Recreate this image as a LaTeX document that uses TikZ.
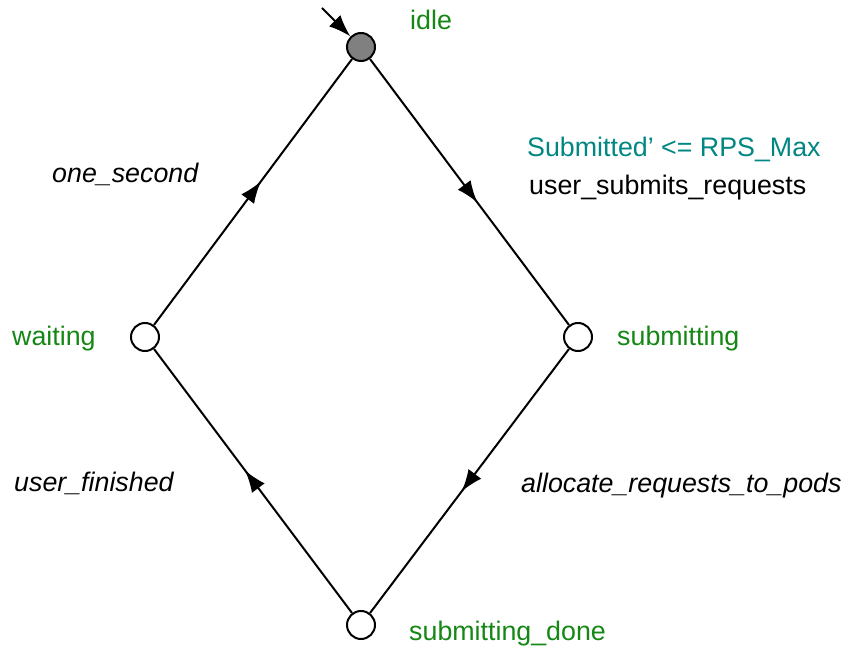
\documentclass[tikz,border=0pt]{standalone}
\usepackage{fontspec}
\setmainfont{Liberation Sans}
\usetikzlibrary{arrows.meta,decorations.markings}
\definecolor{locgreen}{RGB}{20,135,20}
\definecolor{guardteal}{RGB}{0,135,130}
\begin{document}
\begin{tikzpicture}[x=1pt,y=-1pt,
  every node/.style={font=\fontsize{26.8}{30}\selectfont},
  loc/.style={circle,draw,line width=2pt,minimum size=28pt,inner sep=0pt,fill=white},
  locname/.style={text=locgreen,anchor=west,inner sep=0pt},
  sync/.style={anchor=west,inner sep=0pt,font=\fontsize{26.8}{30}\selectfont\itshape},
  tip/.tip={Latex[length=22pt,width=16pt]},
  edge/.style={line width=2pt,postaction={decorate},
    decoration={markings,mark=at position 0.54 with {\arrow{tip}}}}]
\useasboundingbox (0,0) rectangle (849,652);
\node[loc,fill=gray] (idle) at (361,47) {};
\node[loc] (sub) at (578,337) {};
\node[loc] (wait) at (145,337) {};
\node[loc] (done) at (361,625) {};
\coordinate (init) at (322,8);
\draw[line width=2pt,-tip] (init) -- (idle);
\draw[edge] (idle) -- (sub);
\draw[edge] (sub) -- (done);
\draw[edge] (done) -- (wait);
\draw[edge] (wait) -- (idle);
\node[locname] (lidle) at (410,20) {idle};
\node[locname] (lsub) at (617,339) {submitting};
\node[locname] (lwait) at (12,339) {waiting};
\node[locname] (ldone) at (409,634) {submitting\_done};
\node[anchor=west,inner sep=0pt,text=guardteal] (guard) at (527,149) {Submitted’ <= RPS\_Max};
\node[anchor=west,inner sep=0pt] (s1) at (529,188) {user\_submits\_requests};
\node[sync] (s2) at (52,174) {one\_second};
\node[sync] (s3) at (14,483) {user\_finished};
\node[sync] (s4) at (521,486) {allocate\_requests\_to\_pods};
\end{tikzpicture}
\end{document}
